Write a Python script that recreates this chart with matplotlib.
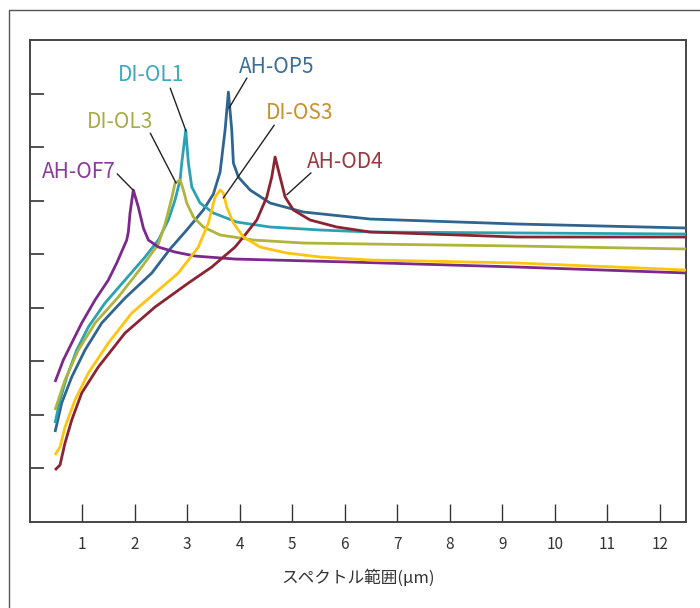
import matplotlib
matplotlib.use("Agg")
import matplotlib.pyplot as plt
from matplotlib.lines import Line2D

plt.rcParams['font.family'] = ['Noto Sans CJK JP', 'DejaVu Sans']

# ---- data ----
x_of7 = [0.486, 0.644, 0.804, 0.994, 1.248, 1.501, 1.661, 1.851, 1.882, 1.914, 1.977,
         2.072, 2.168, 2.263, 2.453, 2.771, 3.152, 3.914, 6.105, 9.286, 12.524]
y_of7 = [2.614, 3.025, 3.342, 3.715, 4.145, 4.518, 4.836, 5.265, 5.414, 5.769, 6.199,
         5.881, 5.489, 5.265, 5.134, 5.041, 4.966, 4.910, 4.854, 4.761, 4.649]

x_ol1 = [0.486, 0.581, 0.709, 0.899, 1.120, 1.438, 1.819, 2.200, 2.453, 2.644, 2.771, 2.867,
         2.899, 2.975, 3.025, 3.090, 3.248, 3.501, 3.947, 4.581, 5.533, 6.486, 12.524]
y_ol1 = [1.848, 2.278, 2.707, 3.211, 3.641, 4.089, 4.518, 4.948, 5.265, 5.639, 6.012, 6.385,
         6.703, 7.319, 6.703, 6.255, 5.956, 5.770, 5.601, 5.508, 5.452, 5.415, 5.377]

x_ol3 = [0.486, 0.676, 0.930, 1.248, 1.691, 2.137, 2.453, 2.581, 2.709, 2.771, 2.867,
         2.930, 2.994, 3.120, 3.310, 3.629, 4.263, 5.215, 6.486, 9.286, 12.524]
y_ol3 = [2.091, 2.651, 3.211, 3.715, 4.201, 4.761, 5.190, 5.564, 6.049, 6.329, 6.385,
         6.199, 5.956, 5.695, 5.508, 5.359, 5.265, 5.209, 5.190, 5.153, 5.097]

x_op5 = [0.486, 0.613, 0.804, 1.057, 1.375, 1.819, 2.328, 2.676, 2.994, 3.310, 3.501, 3.629,
         3.724, 3.787, 3.851, 3.882, 3.977, 4.200, 4.581, 5.215, 6.486, 9.286, 12.524]
y_op5 = [1.680, 2.222, 2.707, 3.211, 3.715, 4.182, 4.649, 5.097, 5.452, 5.826, 6.124, 6.535,
         7.319, 8.028, 7.319, 6.703, 6.441, 6.199, 5.956, 5.788, 5.657, 5.564, 5.489]

x_os3 = [0.486, 0.581, 0.676, 0.867, 1.120, 1.501, 1.947, 2.390, 2.834, 3.215, 3.406, 3.533,
         3.629, 3.691, 3.756, 3.882, 4.072, 4.390, 4.899, 5.533, 6.486, 9.286, 12.524]
y_os3 = [1.251, 1.400, 1.774, 2.278, 2.782, 3.342, 3.902, 4.276, 4.649, 5.134, 5.583, 6.068,
         6.199, 6.143, 5.881, 5.583, 5.321, 5.134, 5.022, 4.948, 4.892, 4.836, 4.705]

x_od4 = [0.486, 0.581, 0.676, 0.804, 0.994, 1.310, 1.819, 2.390, 3.025, 3.470, 3.914, 4.072,
         4.328, 4.518, 4.613, 4.676, 4.771, 4.867, 5.025, 5.343, 5.851, 6.486, 9.286, 12.524]
y_od4 = [0.971, 1.064, 1.475, 1.904, 2.409, 2.894, 3.529, 4.014, 4.462, 4.761, 5.134, 5.321,
         5.639, 6.068, 6.441, 6.815, 6.441, 6.068, 5.825, 5.639, 5.508, 5.415, 5.321, 5.321]

names = ["AH-OF7", "DI-OL1", "DI-OL3", "AH-OP5", "DI-OS3", "AH-OD4"]
line_colors = ["#7B2A8C", "#2AA2B4", "#AEB43C", "#2F6590", "#FFC40F", "#8B2332"]
text_colors = ["#8A3A9C", "#3AAABF", "#A8AD47", "#3B6D99", "#C8902E", "#9A3A40"]
xs = [x_of7, x_ol1, x_ol3, x_op5, x_os3, x_od4]
ys = [y_of7, y_ol1, y_ol3, y_op5, y_os3, y_od4]

# label text positions and leader lines (data coords)
label_pos = [(0.94, 6.53), (2.31, 8.35), (1.72, 7.47), (4.71, 8.50), (5.15, 7.64), (6.01, 6.72)]
leader_start = [(1.67, 6.50), (2.68, 8.10), (2.30, 7.26), (4.14, 8.29), (4.66, 7.41), (5.36, 6.52)]
leader_end = [(1.97, 6.20), (2.98, 7.30), (2.79, 6.33), (3.80, 7.73), (3.69, 6.05), (4.90, 6.11)]

x_ticks = list(range(1, 13))
y_ticks = list(range(1, 9))
xlabel = "スペクトル範囲(μm)"

# ---- figure ----
W, H = 700, 608
fig = plt.figure(figsize=(7.0, 6.08), dpi=100)
ax = fig.add_axes([29.5 / W, (H - 522) / H, (686 - 29.5) / W, (522 - 40) / H])

order = [3, 1, 2, 0, 5, 4]
for i in order:
    ax.plot(xs[i], ys[i], color=line_colors[i], lw=2.0, solid_joinstyle='round',
            solid_capstyle='butt', zorder=3)

for i in range(6):
    ax.annotate("", xy=leader_end[i], xytext=leader_start[i],
                arrowprops=dict(arrowstyle='-', color='#222222', lw=1.0,
                                shrinkA=0, shrinkB=0), zorder=4)
    ax.text(label_pos[i][0], label_pos[i][1], names[i], color=text_colors[i],
            fontsize=15, ha='center', va='center', zorder=5)

ax.set_xlim(0, 12.5)
ax.set_ylim(0, 9)
ax.set_xticks(x_ticks)
ax.set_xticklabels([str(t) for t in x_ticks], fontsize=11, color='#333333')
ax.set_yticks(y_ticks)
ax.set_yticklabels([])
ax.tick_params(axis='x', direction='in', length=13, width=1.0, color='#333333', pad=10)
ax.tick_params(axis='y', direction='in', length=10, width=1.2, color='#333333')
for s in ax.spines.values():
    s.set_color('#444444')
    s.set_linewidth(1.4)
ax.set_xlabel(xlabel, fontsize=12, color='#333333', labelpad=12)

# outer frame (left and top)
fig.add_artist(Line2D([9 / W, 9 / W, 1.0], [0.0, (H - 10) / H, (H - 10) / H],
                      transform=fig.transFigure, color='#555555', lw=1.0))

fig.savefig("out.png", dpi=100)
